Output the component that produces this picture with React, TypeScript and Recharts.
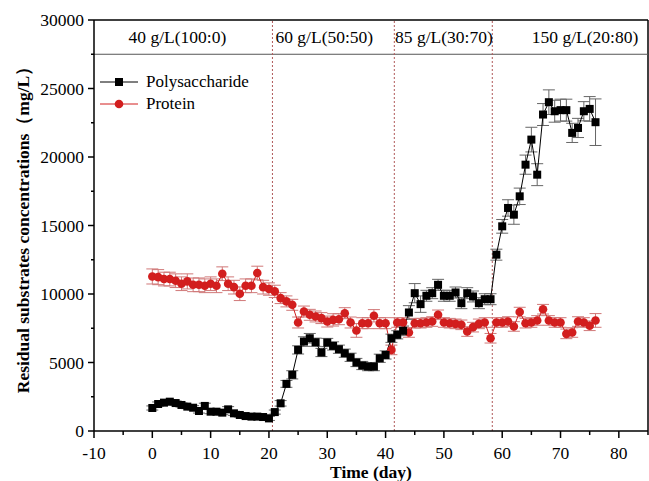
import { LineChart, Line, XAxis, YAxis, ErrorBar, ReferenceLine, ReferenceDot } from "recharts";

const days = [
  0, 1, 2, 3, 4, 5, 6, 7, 8, 9, 10, 11, 12, 13, 14, 15, 16, 17, 18, 19, 20,
  21, 22, 23, 24, 25, 26, 27, 28, 29, 30, 31, 32, 33, 34, 35, 36, 37, 38, 39, 40,
  41, 42, 43, 44, 45, 46, 47, 48, 49, 50, 51, 52, 53, 54, 55, 56, 57, 58,
  59, 60, 61, 62, 63, 64, 65, 66, 67, 68, 69, 70, 71, 72, 73, 74, 75, 76,
];

const polysaccharide = [
  1680, 1970, 2070, 2140, 2040, 1900, 1780, 1700, 1460, 1830, 1410, 1410, 1340, 1580, 1290, 1170, 1090, 1050, 1050, 1020, 920,
  1380, 2020, 3440, 4100, 5920, 6530, 6770, 6480, 5730, 6460, 6210, 5970, 5680, 5380, 5000, 4780, 4700, 4700, 5310, 5550,
  6770, 7020, 7310, 8650, 10060, 9260, 9870, 10060, 10670, 9870, 9870, 10110, 9330, 10060, 9820, 9330, 9620, 9620,
  12870, 14940, 16280, 15790, 17130, 19440, 21270, 18710, 23100, 24000, 23340, 23420, 23420, 21760, 22120, 23340, 23510, 22540,
];

const polysaccharideErr = [
  150, 150, 150, 150, 150, 150, 150, 150, 150, 200, 150, 150, 150, 200, 150, 150, 150, 150, 150, 150, 150,
  150, 200, 250, 300, 300, 350, 350, 300, 300, 300, 300, 300, 300, 300, 300, 300, 300, 300, 300, 300,
  300, 300, 350, 500, 700, 600, 400, 400, 400, 400, 400, 400, 400, 400, 400, 400, 400, 400,
  400, 500, 600, 700, 600, 700, 900, 800, 800, 900, 800, 800, 800, 700, 700, 700, 900, 1700,
];

const protein = [
  11280, 11230, 11090, 11090, 10970, 10750, 10920, 10670, 10670, 10600, 10750, 10600, 11480, 10750, 10500, 10020, 10600, 10600, 11530, 10500, 10360,
  10190, 9700, 9460, 9210, 7920, 8720, 8480, 8360, 8240, 7990, 8110, 8160, 8600, 7920, 7340, 7870, 7870, 8410, 7870, 7870,
  5920, 7920, 7920, 7190, 7870, 7870, 7920, 7990, 8480, 7920, 7870, 7820, 7750, 7260, 7580, 7820, 7920, 6770,
  7920, 7920, 7990, 7630, 8680, 7870, 7920, 8070, 8890, 8070, 7920, 7920, 7090, 7190, 7990, 7920, 7680, 8070,
];

const proteinErr = [
  550, 550, 500, 500, 500, 500, 550, 500, 500, 500, 500, 500, 500, 500, 500, 500, 500, 500, 500, 500, 450,
  450, 400, 400, 400, 400, 400, 400, 400, 400, 400, 450, 400, 400, 400, 500, 400, 400, 450, 400, 400,
  350, 350, 350, 350, 350, 350, 350, 350, 350, 350, 350, 350, 350, 350, 350, 350, 350, 350,
  350, 350, 350, 350, 350, 350, 350, 350, 350, 350, 350, 350, 350, 350, 350, 350, 350, 500,
];

const phaseBounds = [20.6, 41.5, 58.3];
const phaseLabels = ["40 g/L(100:0)", "60 g/L(50:50)", "85 g/L(30:70)", "150 g/L(20:80)"];
const phaseLabelDays = [4.3, 29.5, 50, 74.2];

const xTicks = [-10, -5, 0, 5, 10, 15, 20, 25, 30, 35, 40, 45, 50, 55, 60, 65, 70, 75, 80, 85];
const yTicks = [0, 2500, 5000, 7500, 10000, 12500, 15000, 17500, 20000, 22500, 25000, 27500, 30000];

const data = days.map((d, i) => ({
  day: d,
  poly: polysaccharide[i],
  polyErr: polysaccharideErr[i],
  protein: protein[i],
  proteinErr: proteinErr[i],
}));

const FONT = '"Liberation Serif", "Times New Roman", serif';
const RED = "#d21e1e";

const XTick = (props: any) => {
  const { x, y, payload } = props;
  const major = payload.value % 10 === 0;
  return (
    <g>
      <line x1={x} x2={x} y1={y} y2={y + (major ? 7 : 4)} stroke="#000" strokeWidth={1.5} />
      {major && (
        <text x={x} y={y + 28} textAnchor="middle" fontFamily={FONT} fontSize={17.5} fill="#000">
          {payload.value}
        </text>
      )}
    </g>
  );
};

const YTick = (props: any) => {
  const { x, y, payload } = props;
  const major = payload.value % 5000 === 0;
  return (
    <g>
      <line x1={x} x2={x - (major ? 6 : 3)} y1={y} y2={y} stroke="#000" strokeWidth={1.5} />
      {major && (
        <text x={x - 10} y={y} dy="0.35em" textAnchor="end" fontFamily={FONT} fontSize={17.5} fill="#000">
          {payload.value}
        </text>
      )}
    </g>
  );
};

const SquareDot = (props: any) => {
  const { cx, cy, index } = props;
  if (cx == null || cy == null) return <g key={index} />;
  return <rect key={index} x={cx - 4} y={cy - 4} width={8} height={8} fill="#000" />;
};

const CircleDot = (props: any) => {
  const { cx, cy, index } = props;
  if (cx == null || cy == null) return <g key={index} />;
  return <circle key={index} cx={cx} cy={cy} r={4.3} fill={RED} />;
};

export default function App() {
  return (
    <div style={{ position: "absolute", left: 0, top: 0, width: 649, height: 481, background: "#fff", overflow: "hidden" }}>
      <LineChart width={649} height={481} data={data} margin={{ top: 20, right: 1, bottom: 0, left: 0 }}>
        <XAxis
          dataKey="day"
          type="number"
          domain={[-10, 85]}
          ticks={xTicks}
          interval={0}
          tick={<XTick />}
          tickLine={false}
          tickSize={0}
          tickMargin={0}
          height={50}
          axisLine={{ stroke: "#000", strokeWidth: 1.5 }}
          label={{
            value: "Time (day)",
            position: "insideBottom",
            offset: 3,
            style: { fontFamily: FONT, fontSize: 17.5, fontWeight: "bold", fill: "#000" },
          }}
        />
        <YAxis
          type="number"
          domain={[0, 30000]}
          ticks={yTicks}
          interval={0}
          tick={<YTick />}
          tickLine={false}
          tickSize={0}
          tickMargin={0}
          width={94}
          axisLine={{ stroke: "#000", strokeWidth: 1.5 }}
          label={{
            value: "Residual substrates concentrations（mg/L）",
            angle: -90,
            position: "center",
            dx: -24,
            style: { fontFamily: FONT, fontSize: 17.5, fontWeight: "bold", fill: "#000", textAnchor: "middle" },
          }}
        />
        <ReferenceLine y={30000} stroke="#000" strokeWidth={1.5} />
        <ReferenceLine x={85} stroke="#000" strokeWidth={1.5} />
        <ReferenceLine y={27500} stroke="#555" strokeWidth={1} />
        {phaseBounds.map((b) => (
          <ReferenceLine key={b} x={b} stroke="#b05a5a" strokeWidth={1} strokeDasharray="2 2" />
        ))}
        {phaseLabels.map((t, i) => (
          <ReferenceDot
            key={t}
            x={phaseLabelDays[i]}
            y={28750}
            r={0}
            fill="none"
            stroke="none"
            label={{
              value: t,
              position: "center",
              style: { fontFamily: FONT, fontSize: 17.5, fill: "#000" },
            }}
          />
        ))}
        <Line
          dataKey="protein"
          stroke={RED}
          strokeWidth={1}
          dot={<CircleDot />}
          activeDot={false}
          isAnimationActive={false}
        >
          <ErrorBar dataKey="proteinErr" direction="y" width={6} stroke="#d07878" strokeWidth={1} />
        </Line>
        <Line
          dataKey="poly"
          stroke="#000"
          strokeWidth={1}
          dot={<SquareDot />}
          activeDot={false}
          isAnimationActive={false}
        >
          <ErrorBar dataKey="polyErr" direction="y" width={6} stroke="#666" strokeWidth={1} />
        </Line>
      </LineChart>
      <div style={{ position: "absolute", left: 98, top: 71, fontFamily: FONT, fontSize: 17, lineHeight: "22px" }}>
        <div style={{ display: "flex", alignItems: "center" }}>
          <svg width={44} height={22}>
            <line x1={2} x2={40} y1={11} y2={11} stroke="#000" strokeWidth={1} />
            <rect x={17} y={7} width={8} height={8} fill="#000" />
          </svg>
          <span style={{ marginLeft: 4 }}>Polysaccharide</span>
        </div>
        <div style={{ display: "flex", alignItems: "center" }}>
          <svg width={44} height={22}>
            <line x1={2} x2={40} y1={11} y2={11} stroke={RED} strokeWidth={1} />
            <circle cx={21} cy={11} r={4.3} fill={RED} />
          </svg>
          <span style={{ marginLeft: 4 }}>Protein</span>
        </div>
      </div>
    </div>
  );
}
